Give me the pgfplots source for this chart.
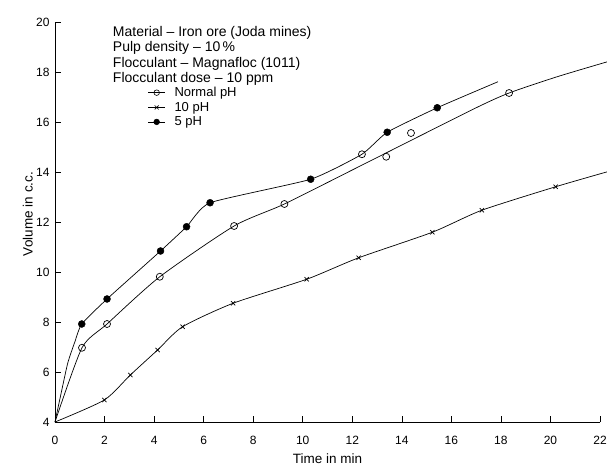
\documentclass[border=0pt]{standalone}
\usepackage{pgfplots}
\pgfplotsset{compat=1.18}
\usepackage{fontspec}
\setmainfont{Liberation Sans}
\newcommand\lf{\fontsize{13}{15}\selectfont}
\begin{document}
\begin{tikzpicture}
\useasboundingbox (-55pt,-46pt) rectangle (552pt,422pt);
\begin{axis}[
  scale only axis, width=545pt, height=400pt,
  xmin=0, xmax=22, ymin=4, ymax=20,
  axis x line*=bottom, axis y line*=left,
  axis line style={black, line width=0.7pt},
  clip=false,
  xtick={0,2,...,22}, ytick={4,6,...,20},
  tick align=inside, major tick length=6pt,
  tick style={black, line width=0.6pt},
  xticklabels={0,2,4,6,8,10,12,14,16,18,20,22},
  yticklabels={4,6,8,10,12,14,16,18,20},
  tick label style={font=\fontsize{12}{14}\selectfont},
  xticklabel style={yshift=-11pt},
  yticklabel style={xshift=-2pt},
  every axis x label/.style={at={(axis description cs:0.5,-0.092)}, anchor=center},
  every axis y label/.style={at={(axis description cs:-0.05,0.52)}, rotate=90, anchor=center},
  xlabel={Time in min}, ylabel={Volume in c.c.},
  label style={font=\fontsize{13.5}{15}\selectfont},
  legend style={at={(axis description cs:0.17,0.84)}, anchor=north west, draw=none, fill=none,
    row sep=2pt, column sep=6pt, inner sep=0pt,
    nodes={inner xsep=3pt, inner ysep=1pt, font=\lf}},
  legend cell align=left,
  legend image code/.code={\draw[mark repeat=2,mark phase=2,#1] plot coordinates {(0cm,0cm) (0.3cm,0cm) (0.6cm,0cm)};},
]
\addlegendimage{black, line width=0.6pt, mark=o, mark size=2.8pt, mark options={fill=white, solid}}
\addlegendentry{Normal pH}
\addlegendimage{black, line width=0.6pt, mark=x, mark size=2.8pt}
\addlegendentry{10 pH}
\addlegendimage{black, line width=0.6pt, mark=*, mark size=2.8pt}
\addlegendentry{5 pH}

% Normal pH curve
\addplot[black, line width=0.7pt, smooth, tension=0.4, forget plot] coordinates {
 (0,4) (1.09,6.97) (2.1,7.92) (4.23,9.81) (7.23,11.84) (9.26,12.72) (12.4,14.28) (16.9,16.52) (18.33,17.16) (20.27,17.81) (22.3,18.41)};
\addplot[black, only marks, mark=o, mark size=3.5pt, mark options={fill=white, line width=0.7pt}, forget plot] coordinates {
 (1.09,6.97) (2.1,7.92) (4.23,9.81) (7.23,11.84) (9.26,12.72) (12.39,14.71) (13.37,14.61) (14.37,15.56) (18.33,17.16)};

% 5 pH curve
\addplot[black, line width=0.7pt, smooth, tension=0.3, forget plot] coordinates {
 (0,4) (0.5,6.3) (0.8,7.2) (1.08,7.92) (2.1,8.92) (4.26,10.84) (5.31,11.81) (6.26,12.77) (10.32,13.71) (12.39,14.71) (13.41,15.59) (15.43,16.57) (17.88,17.61)};
\addplot[black, only marks, mark=*, mark size=3.5pt, forget plot] coordinates {
 (1.08,7.92) (2.1,8.92) (4.26,10.84) (5.31,11.81) (6.26,12.77) (10.32,13.71) (13.41,15.59) (15.43,16.57)};

% 10 pH curve
\addplot[black, line width=0.7pt, smooth, tension=0.4, forget plot] coordinates {
 (0,4) (1.99,4.88) (3.04,5.88) (4.14,6.88) (5.15,7.81) (7.19,8.75) (10.16,9.71) (12.26,10.57) (15.23,11.59) (17.23,12.47) (20.21,13.41) (22.3,14.01)};
\addplot[black, only marks, mark=x, mark size=3pt, mark options={line width=0.7pt}, forget plot] coordinates {
 (1.99,4.88) (3.04,5.88) (4.14,6.88) (5.15,7.81) (7.19,8.75) (10.16,9.71) (12.26,10.57) (15.23,11.59) (17.23,12.47) (20.21,13.41)};

\node[anchor=north west, align=left, inner sep=0pt, font=\fontsize{14}{15.5}\selectfont]
  at (axis description cs:0.106,0.99)
  {Material -- Iron ore (Joda mines)\\
   Pulp density -- 10\,\%\\
   Flocculant -- Magnafloc (1011)\\
   Flocculant dose -- 10 ppm};
\end{axis}
\end{tikzpicture}
\end{document}
